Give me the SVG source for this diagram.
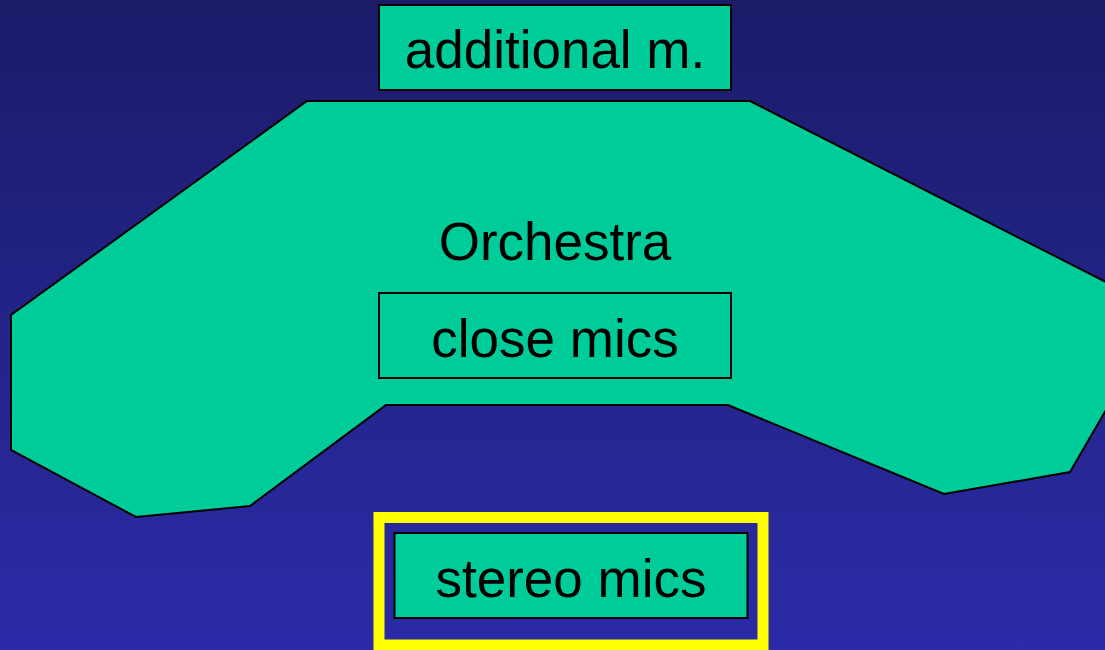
<svg xmlns="http://www.w3.org/2000/svg" width="1105" height="650" viewBox="0 0 1105 650">
<defs>
<linearGradient id="bg" x1="0" y1="0" x2="0" y2="1">
<stop offset="0" stop-color="#1b1b69"/>
<stop offset="1" stop-color="#2b2ba8"/>
</linearGradient>
</defs>
<style>
.box{fill:#00cc99;stroke:#000;stroke-width:2}
.lbl{font-family:"Liberation Sans",Arial,sans-serif;font-size:53px;fill:#000;text-anchor:middle}
</style>
<rect x="0" y="0" width="1105" height="650" fill="url(#bg)"/>
<g id="orchestra">
<polygon class="box" points="307,101 750,101 1104,281 1106,282 1106,410 1070,472 944,494 728,405 386,405 250,506 136,517 11,450 11,315"/>
<text class="lbl" x="555" y="260">Orchestra</text>
</g>
<g id="additional">
<rect class="box" x="379" y="5" width="352" height="85"/>
<text class="lbl" x="555" y="68">additional m.</text>
</g>
<g id="close">
<rect class="box" x="379" y="293" width="352" height="85"/>
<text class="lbl" x="555" y="357">close mics</text>
</g>
<g id="stereo">
<rect x="379" y="517.5" width="384" height="127.5" fill="none" stroke="#ffff00" stroke-width="11"/>
<rect class="box" x="394.5" y="533" width="353" height="85"/>
<text class="lbl" x="571" y="597">stereo mics</text>
</g>
<g id="connectors"/>
</svg>
